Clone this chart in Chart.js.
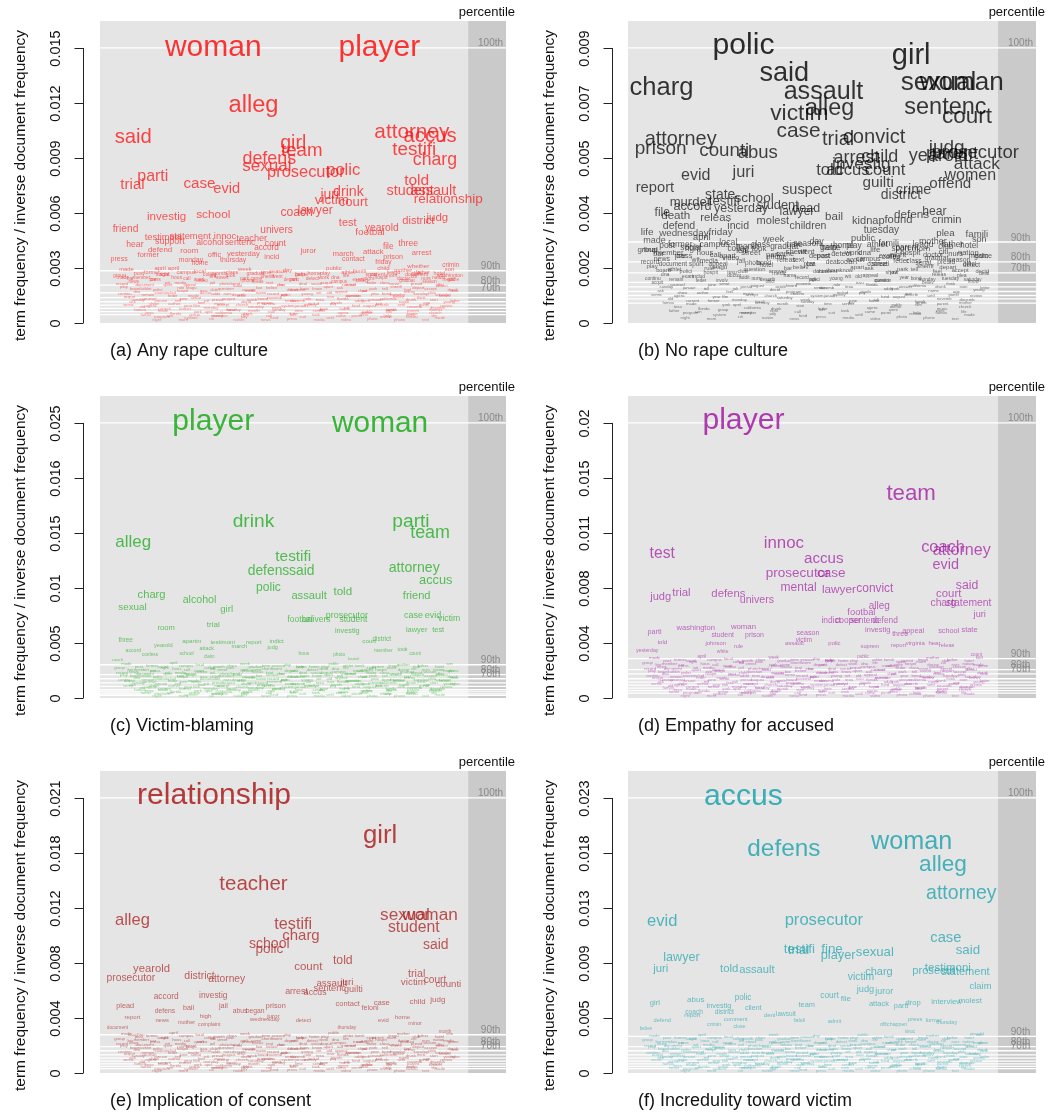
<!DOCTYPE html>
<html>
<head>
<meta charset="utf-8">
<script src="https://cdn.jsdelivr.net/npm/chart.js@4.4.0/dist/chart.umd.min.js"></script>
<style>
body { margin: 0; background: #fff; }
#wrap { position: relative; width: 1055px; height: 1114px; }
canvas { position: absolute; }
</style>
</head>
<body>
<div id="wrap"></div>
<script>
// (a) Any rape culture
const aWords = ["woman","player","alleg","said","attorney","accus","girl","team","testifi","charg","defens","sexual","prosecutor","polic","parti","trial","case","evid","told","student","assault","relationship","drink","juri","victim","court","coach","lawyer","investig","school","friend","univers","test","yearold","footbal","district","judg","testimoni","statement","innoc","teacher","sentenc","alcohol","support","count","accord","hear","former","defend","room","juror","file","three","attack","arrest","march","press","offic","yesterday","incid","monday","home","thursday","prison","contact","friday","child","crimin","whether","document","washington","made","april"];
const aX = [27.9,68.8,37.8,8.2,76.8,81.3,47.6,49.7,77.4,82.5,41.7,41.1,50.7,59.9,13.0,8.0,24.5,31.2,78.0,76.4,82.1,85.8,61.2,56.6,57.1,62.4,48.4,53.0,16.4,27.9,6.3,43.5,61.0,69.4,66.5,78.4,83.1,15.6,22.2,30.8,37.4,34.5,27.1,17.2,43.2,41.0,8.6,11.9,14.8,22.0,51.3,71.0,75.9,67.3,79.2,59.9,4.7,28.2,35.3,42.3,22.4,24.6,32.8,72.2,62.4,69.8,69.8,86.4,78.4,78.0,86.2,5.6,14.8];
const aY = [.0150,.0150,.01184,.01013,.01037,.01016,.00977,.00936,.00944,.00885,.00894,.00852,.00822,.00828,.00798,.00753,.0076,.00729,.00776,.00719,.0072,.00675,.00711,.00698,.00668,.00654,.00603,.00612,.00576,.00591,.00513,.00507,.00546,.00515,.00495,.00557,.00573,.00465,.00471,.00471,.00458,.0044,.00435,.00444,.00432,.00411,.00429,.00371,.00398,.00395,.00395,.00413,.00432,.00386,.0038,.00375,.0035,.00368,.00377,.00362,.00341,.00326,.00341,.00362,.0035,.00332,.00299,.00317,.00308,.00263,.00257,.00249,.00299];
const aTicks = ["0","0.003","0.006","0.009","0.012","0.015"];
const aPct = [0.015,0.00285,0.00207,0.00165,0.00138,0.00116,0.00097,0.0008,0.00062,0.00046];

// (b) No rape culture
const bWords = ["polic","girl","said","charg","sexual","woman","assault","alleg","victim","sentenc","court","case","trial","convict","attorney","prison","counti","abus","judg","prosecutor","yearold","parent","attack","women","offend","arrest","child","investig","told","accus","count","evid","juri","guilti","crime","district","report","suspect","state","school","testifi","murder","accord","yesterday","student","lawyer","dead","file","death","releas","bail","defens","hear","crimin","kidnap","found","defend","molest","incid","children","life","wednesday","friday","tuesday","plea","famili","final"];
const bX = [28.3,69.4,38.3,8.2,76.1,81.8,47.9,49.4,42.0,77.8,83.1,41.8,51.5,60.3,12.9,8.0,23.6,31.8,78.1,85.1,76.1,79.4,85.5,83.9,79.0,56.0,61.7,57.2,49.4,53.9,63.0,16.6,28.3,61.3,70.0,66.9,6.6,43.9,22.6,30.9,23.6,15.3,15.8,27.7,36.7,41.4,43.7,8.4,11.7,21.5,50.5,69.5,75.1,78.1,58.9,66.3,12.5,35.5,27.0,44.1,4.7,13.7,22.7,62.1,77.8,85.5,5.5];
const bY = [.00907,.00872,.00814,.00767,.00786,.00783,.00754,.00701,.00685,.00704,.00674,.00627,.006,.00605,.00598,.0057,.00562,.00555,.00571,.00555,.00544,.00552,.00518,.0048,.00456,.00539,.00541,.00519,.00498,.00498,.00498,.00482,.0049,.00458,.00436,.00419,.00442,.00436,.00418,.00408,.00398,.00394,.00381,.00374,.00385,.00363,.00374,.00361,.00349,.00342,.00346,.00353,.00364,.00337,.00332,.00337,.00318,.00332,.00316,.00315,.00298,.00293,.00297,.00304,.00292,.00289,.00238];
const bTicks = ["0","0.002","0.004","0.005","0.007","0.009"];
const bPct = [0.009,0.00265,0.0020,0.00164,0.00133,0.00118,0.00103,0.0009,0.00079,0.00065];

// (c) Victim-blaming
const cWords = ["player","woman","drink","parti","team","alleg","testifi","defens","said","attorney","accus","polic","told","assault","friend","charg","alcohol","sexual","girl","footbal","univers","prosecutor","student","case","evid","victim","room","trial","investig","lawyer","test","three","yearold","apartm","testimoni","report","indict","march","attack","judg","court","district","accord","confess","school","claim","hous","photo","member","took","count","found","coach"];
const cX = [27.9,69.0,37.8,76.6,81.3,8.2,47.6,41.5,49.7,77.4,82.7,41.5,59.8,51.5,78.0,12.7,24.5,8.0,31.2,49.3,53.4,60.8,62.4,77.2,82.0,86.0,16.3,27.9,60.9,78.0,83.3,6.3,15.6,22.6,30.2,37.9,43.5,34.3,26.3,42.5,66.3,69.4,8.2,12.3,21.3,26.9,50.2,58.9,69.8,74.5,77.6,62.4,4.3];
const cY = [.0251,.02485,.01597,.01597,.01493,.01415,.01282,.01155,.01155,.01178,.01066,.01005,.00966,.0093,.00924,.00936,.00887,.00821,.00803,.00709,.00709,.00745,.00709,.00751,.0075,.00724,.00636,.00664,.00605,.00618,.00618,.00524,.00478,.00515,.00509,.00503,.00515,.0047,.00451,.00454,.00515,.0053,.0043,.00391,.00406,.00375,.00406,.00397,.00427,.00442,.004,.00355,.00345];
const cTicks = ["0","0.005","0.01","0.015","0.016","0.025"];
const cPct = [0.025,0.00302,0.00212,0.00175,0.00138,0.00105,0.00075,0.00055,0.00038,0.00025];

// (d) Empathy for accused
const dWords = ["player","team","innoc","test","coach","attorney","accus","evid","prosecutor","case","mental","lawyer","convict","said","court","charg","statement","juri","judg","trial","defens","univers","alleg","footbal","indict","cooper","sentenc","defend","investig","three","appeal","school","state","washington","woman","parti","prison","season","student","victim","told","johnson","polic","assault","report","virginia","hear","releas","yesterday","suprem","rule","count","white","order"];
const dX = [28.3,69.4,38.2,8.4,77.2,81.8,48.0,77.9,41.6,49.8,41.8,51.7,60.5,83.1,78.6,77.3,83.5,86.2,8.0,13.1,24.6,31.6,61.6,57.2,49.8,53.9,58.0,63.0,61.2,66.7,69.9,78.6,83.7,16.6,28.3,6.5,31.0,44.1,23.2,43.1,8.4,21.5,50.6,40.8,66.3,70.4,75.1,78.1,4.7,59.3,27.1,85.4,23.2,49.4];
const dY = [.0191,.01411,.01068,.00995,.01036,.0102,.00958,.00914,.00857,.00857,.0076,.00748,.00755,.00778,.0072,.00654,.00654,.00578,.007,.00725,.0072,.00674,.00633,.00592,.0053,.0053,.0053,.0053,.00472,.00444,.0046,.00463,.0047,.00481,.00493,.00456,.00437,.00449,.00433,.00398,.00384,.00375,.00375,.00376,.00363,.0038,.0038,.0036,.00329,.00355,.00352,.00297,.0032,.00262];
const dTicks = ["0","0.004","0.008","0.011","0.015","0.02"];
const dPct = [0.019,0.00272,0.00196,0.00166,0.00133,0.0011,0.00089,0.00068,0.00051,0.00034];

// (e) Implication of consent
const eWords = ["relationship","girl","teacher","alleg","sexual","woman","student","testifi","charg","school","polic","said","told","count","yearold","prosecutor","district","attorney","trial","victim","court","counti","assault","juri","sentenc","guilti","arrest","accus","accord","investig","plead","prison","contact","case","child","judg","jail","abus","began","juror","wednesday","feloni","report","defens","high","bail","detect","home","evid","minor","news","document","mother","complaint","month","thursday","daughter"];
const eX = [28.1,69.0,37.8,8.0,75.1,81.3,77.3,47.6,49.5,41.7,41.7,82.7,59.8,51.3,12.7,7.6,24.5,31.2,78.0,77.2,82.5,85.8,57.1,60.8,56.6,62.4,48.4,53.0,16.3,27.9,6.2,43.3,61.0,69.4,78.2,83.2,30.4,34.5,38.2,42.7,40.6,66.5,8.0,16.0,26.0,21.8,50.1,74.5,69.8,77.6,15.3,4.3,21.3,26.9,85.0,60.8,9.0];
const eY = [.0211,.01804,.01435,.0116,.01206,.01206,.01106,.01134,.01048,.00986,.00946,.00976,.00858,.00808,.0079,.00724,.00736,.00716,.00751,.0069,.00711,.00678,.0068,.0069,.00647,.00637,.00622,.00609,.00579,.00586,.00514,.00512,.00525,.00533,.00542,.00558,.00509,.00474,.00474,.00436,.0041,.00497,.00423,.00472,.00433,.00495,.00397,.00426,.00403,.00377,.00403,.00342,.00384,.00367,.00316,.00346,.00293];
const eTicks = ["0","0.004","0.008","0.012","0.018","0.021"];
const ePct = [0.021,0.00292,0.00201,0.0017,0.00139,0.00113,0.0009,0.00069,0.0005,0.00034];

// (f) Incredulity toward victim
const fWords = ["accus","woman","defens","alleg","attorney","prosecutor","evid","case","testifi","trial","fine","sexual","said","player","lawyer","testimoni","statement","prosecut","told","juri","assault","charg","victim","claim","judg","juror","court","file","polic","abus","girl","interview","drop","molest","attack","team","parti","investig","client","coach","district","lawsuit","deni","report","comment","press","former","falsli","defend","admit","thursday","crimin","offic","happen","close","believ","innoc","yearold"];
const fX = [28.3,69.5,38.2,77.2,81.7,48.0,8.4,77.9,42.0,41.8,50.0,60.5,83.3,51.5,13.1,78.4,82.7,74.9,24.8,8.0,31.6,61.5,57.1,86.4,58.2,62.8,49.4,53.4,28.2,16.6,6.6,78.1,69.9,83.9,61.5,43.8,66.9,22.3,30.7,16.2,23.6,38.7,34.7,15.8,26.4,70.4,74.9,42.0,8.4,50.6,78.1,21.1,62.9,66.3,27.3,4.4,69.1,85.5];
const fY = [.0231,.01932,.01865,.01736,.01497,.01273,.01267,.01126,.0103,.01023,.0103,.01009,.01021,.00977,.00963,.00882,.00846,.00851,.00871,.00865,.0086,.00843,.00798,.00723,.00701,.00681,.00642,.00622,.00625,.00612,.00586,.00594,.00586,.00603,.00574,.00568,.00561,.00561,.00545,.00508,.00508,.00493,.00478,.00478,.00447,.00447,.00436,.00436,.00435,.00427,.00421,.00402,.00402,.00402,.00386,.00371,.0034,.00324];
const fTicks = ["0","0.005","0.009","0.013","0.018","0.023"];
const fPct = [0.023,0.00306,0.00221,0.00186,0.00152,0.00124,0.00099,0.00076,0.00055,0.00037];

// low-frequency terms packed under the 90th percentile (y as a share of the 90th percentile value)
const lowWords = ["made","former","april","local","month","week","time","day","home","public","famili","parent","mother","father","son","group","member","right","call","left","took","came","went","help","work","life","night","morn","citi","nation","news","press","media","video","photo","phone","text","post","social","campus","colleg","class","graduat","season","game","play","athlet","sport","leagu","club","hotel","bar","car","hous","apart","street","park","sheriff","depart","detect","dna","exam","hospit","doctor","nurs","medic","record","document","wit","appeal","jail","bond","releas","plea","deal","acquit","counsel","feder","senat","presid","offici","board","polici","rule","issu","question","answer","believ","think","know","ask","show","tell","feel","accept","decid","continu","remain","includ","involv","addit","describ","name","age","young","old","current","year","monday","tuesday","saturday","sunday","januari","june","juli","august","octob","novemb","decemb","texa","florida","york","california","drunk","stori","letter","servic","agenc","author","film","music","church","program","system","money","pay","fund","suit","settl","panel","review","famou"];
const lowX = [6.5,12.8,18.1,24.6,29.3,35.7,40.9,46.2,52.8,57.6,63.9,68.4,74.7,79.5,86.1,
  4.8,10.2,15.9,21.4,27.8,32.1,38.5,43.7,49.3,55.1,60.6,66.2,71.8,77.3,83.4,
  8.3,13.6,19.8,25.2,30.7,36.4,41.8,47.9,53.3,58.9,64.5,70.1,75.6,81.2,87.0,
  5.9,11.4,16.7,22.5,28.1,33.9,39.2,44.8,50.4,56.2,61.7,67.3,72.9,78.4,84.2,
  9.1,14.7,20.3,26.0,31.4,37.1,42.6,48.3,53.9,59.4,65.1,70.6,76.2,81.8,87.3,
  7.2,12.1,17.9,23.6,29.0,34.8,40.1,45.7,51.2,56.8,62.4,68.0,73.5,79.1,84.7,
  8.0,13.3,19.2,24.9,30.3,36.0,41.5,47.1,52.6,58.3,63.8,69.4,74.9,80.5,86.0,
  10.4,15.8,21.7,27.3,32.9,38.4,44.0,49.6,55.2,60.8,66.4,71.9,77.5,83.1,
  12.2,18.6,24.1,30.5,36.3,42.2,47.8,53.7,59.9,65.6,71.2,77.0,82.6,
  15.3,22.4,28.8,35.5,42.9,49.9,56.6,63.2,70.4,76.8,83.7];
const lowFrac = [1.02,.96,1.05,.99,.94,1.03,.97,1.0,.95,1.04,.98,.93,1.01,.97,1.03,
  .9,.86,.92,.84,.89,.91,.85,.88,.93,.87,.9,.84,.91,.88,.86,
  .79,.82,.76,.8,.74,.81,.77,.83,.75,.79,.81,.76,.8,.78,.82,
  .7,.66,.72,.68,.64,.71,.67,.73,.65,.69,.72,.66,.7,.68,.71,
  .6,.57,.62,.58,.55,.61,.56,.63,.57,.59,.62,.55,.6,.58,.61,
  .5,.47,.52,.48,.45,.51,.46,.53,.47,.49,.52,.45,.5,.48,.51,
  .4,.37,.42,.38,.35,.41,.36,.43,.37,.39,.42,.35,.4,.38,.41,
  .3,.27,.32,.28,.25,.31,.26,.33,.27,.29,.32,.25,.3,.28,
  .2,.18,.22,.19,.17,.21,.18,.23,.19,.2,.22,.17,.2,
  .12,.1,.13,.11,.09,.12,.1,.13,.11,.12,.1];
const lowX2 = [9.6,15.4,21.2,27.0,32.5,38.3,43.9,49.6,55.4,61.1,66.8,72.3,77.9,83.6,
  7.5,13.1,18.9,24.4,30.1,35.6,41.2,46.9,52.3,58.0,63.6,69.2,74.8,80.3,85.9,
  5.4,11.0,16.6,22.1,27.7,33.3,38.8,44.5,50.0,55.7,61.3,66.9,72.4,78.0,83.7,
  8.7,14.2,19.9,25.5,31.0,36.7,42.3,47.8,53.5,59.1,64.7,70.2,75.8,81.4,86.8,
  6.1,11.8,17.3,23.0,28.5,34.2,39.7,45.4,51.0,56.5,62.2,67.7,73.3,79.0,84.5,
  9.4,15.0,20.6,26.3,31.8,37.4,43.0,48.7,54.2,59.8,65.5,71.0,76.6,82.2,87.5,
  7.0,12.6,18.3,23.8,29.5,35.0,40.6,46.3,51.8,57.4,63.0,68.7,74.2,79.8,85.3,
  9.9,15.5,21.0,26.7,32.3,37.9,43.5,49.0,54.7,60.3,65.9,71.5,77.1,82.7,
  11.3,17.2,23.3,29.6,35.8,41.6,47.5,53.2,59.3,65.0,70.8,76.5,82.3,
  14.0,20.5,27.5,34.2,40.8,47.3,54.0,60.6,67.1,73.8,80.2];
const lowFrac2 = [.95,.93,.97,.92,.96,.94,.98,.93,.95,.97,.92,.96,.94,.95,
  .85,.83,.87,.82,.86,.84,.88,.83,.85,.87,.82,.86,.84,.85,.83,
  .75,.73,.77,.72,.76,.74,.78,.73,.75,.77,.72,.76,.74,.75,.73,
  .65,.63,.67,.62,.66,.64,.68,.63,.65,.67,.62,.66,.64,.65,.63,
  .55,.53,.57,.52,.56,.54,.58,.53,.55,.57,.52,.56,.54,.55,.53,
  .45,.43,.47,.42,.46,.44,.48,.43,.45,.47,.42,.46,.44,.45,.43,
  .35,.33,.37,.32,.36,.34,.38,.33,.35,.37,.32,.36,.34,.35,.33,
  .25,.23,.27,.22,.26,.24,.28,.23,.25,.27,.22,.26,.24,.25,
  .15,.14,.16,.13,.15,.14,.16,.15,.14,.16,.13,.15,.14,
  .06,.05,.07,.06,.05,.07,.06,.05,.07,.06,.05];

const pctLabels = ["100th","90th","80th","70th"];
const FONT = '"Liberation Sans", Arial, Helvetica, sans-serif';
const YTITLE = "term frequency / inverse document frequency";
const BAND = 90.7;

const panels = [
  {cap: "(a) Any rape culture", words: aWords, x: aX, y: aY, ticks: aTicks, pct: aPct, yTop: 0.015, rgb: "255,10,10", left: 0, top: 0, w: 527, h: 375, col: 0},
  {cap: "(b) No rape culture", words: bWords, x: bX, y: bY, ticks: bTicks, pct: bPct, yTop: 0.009, rgb: "0,0,0", left: 527, top: 0, w: 528, h: 375, col: 1},
  {cap: "(c) Victim-blaming", words: cWords, x: cX, y: cY, ticks: cTicks, pct: cPct, yTop: 0.025, rgb: "18,168,18", left: 0, top: 375, w: 527, h: 375, col: 0},
  {cap: "(d) Empathy for accused", words: dWords, x: dX, y: dY, ticks: dTicks, pct: dPct, yTop: 0.019, rgb: "160,20,160", left: 527, top: 375, w: 528, h: 375, col: 1},
  {cap: "(e) Implication of consent", words: eWords, x: eX, y: eY, ticks: eTicks, pct: ePct, yTop: 0.021, rgb: "168,18,18", left: 0, top: 750, w: 527, h: 364, col: 0},
  {cap: "(f) Incredulity toward victim", words: fWords, x: fX, y: fY, ticks: fTicks, pct: fPct, yTop: 0.023, rgb: "20,160,170", left: 527, top: 750, w: 528, h: 364, col: 1}
];

// column geometry: axis line, grey plot left/right
const geo = [{axis: 83, grayL: 100, grayR: 506}, {axis: 85, grayL: 101, grayR: 509}];

function wordPlugin(p) {
  return {
    id: 'wordcloud',
    beforeDatasetsDraw(chart) {
      const ctx = chart.ctx, xs = chart.scales.x, ys = chart.scales.y;
      const L = xs.getPixelForValue(0), R = xs.getPixelForValue(100), B = xs.getPixelForValue(BAND);
      const T = ys.getPixelForValue(ys.max), Z = ys.getPixelForValue(0);
      ctx.save();
      ctx.fillStyle = '#e5e5e5';
      ctx.fillRect(L, T, R - L, Z - T);
      ctx.fillStyle = '#cacaca';
      ctx.fillRect(B, T, R - B, Z - T);
      ctx.strokeStyle = '#ffffff';
      ctx.lineWidth = 1.3;
      p.pct.forEach(v => {
        const yy = ys.getPixelForValue(v);
        ctx.beginPath(); ctx.moveTo(L, yy); ctx.lineTo(R, yy); ctx.stroke();
      });
      ctx.fillStyle = '#8a8a8a';
      ctx.font = '10px ' + FONT;
      ctx.textAlign = 'center';
      ctx.textBaseline = 'alphabetic';
      pctLabels.forEach((t, i) => {
        ctx.fillText(t, xs.getPixelForValue(96.2), ys.getPixelForValue(p.pct[i]) - 1.5);
      });
      ctx.restore();
    },
    afterDatasetsDraw(chart) {
      const ctx = chart.ctx, xs = chart.scales.x, ys = chart.scales.y;
      const items = [];
      chart.data.datasets.forEach((ds, di) => {
        const meta = chart.getDatasetMeta(di);
        ds.data.forEach((d, i) => items.push({w: d.w, v: d.y, px: meta.data[i].x, py: meta.data[i].y}));
      });
      items.sort((a, b) => a.v - b.v);
      ctx.save();
      ctx.textAlign = 'center';
      ctx.textBaseline = 'alphabetic';
      items.forEach(it => {
        const rel = it.v / p.yTop;
        const size = Math.max(4.2, 30 * rel);
        const a = 0.42 + 0.4 * Math.sqrt(Math.min(rel, 1));
        ctx.fillStyle = 'rgba(' + p.rgb + ',' + a.toFixed(3) + ')';
        ctx.font = size.toFixed(2) + 'px ' + FONT;
        ctx.fillText(it.w, it.px, it.py + 0.26 * size);
      });

      // y axis (only from 0 to the top tick)
      const ax = chart.chartArea.left + 0.5;
      const T = ys.getPixelForValue(ys.max);
      ctx.strokeStyle = '#222';
      ctx.lineWidth = 1;
      ctx.beginPath();
      ctx.moveTo(ax, ys.getPixelForValue(0));
      ctx.lineTo(ax, ys.getPixelForValue(p.yTop));
      ctx.stroke();
      ctx.fillStyle = '#111';
      ctx.font = '14.5px ' + FONT;
      ctx.textBaseline = 'middle';
      const n = p.ticks.length - 1;
      p.ticks.forEach((lab, i) => {
        const yy = Math.round(ys.getPixelForValue(p.yTop * i / n)) + 0.5;
        ctx.beginPath(); ctx.moveTo(ax - 9, yy); ctx.lineTo(ax, yy); ctx.stroke();
        ctx.save();
        ctx.translate(ax - 27.5, yy);
        ctx.rotate(-Math.PI / 2);
        ctx.fillText(lab, 0, 0);
        ctx.restore();
      });
      // axis title
      ctx.save();
      ctx.font = '15.5px ' + FONT;
      ctx.translate(ax - 63, (ys.getPixelForValue(0) + ys.getPixelForValue(p.yTop)) / 2);
      ctx.rotate(-Math.PI / 2);
      ctx.fillText(YTITLE, 0, 0);
      ctx.restore();
      // "percentile" heading over the band
      ctx.font = '13px ' + FONT;
      ctx.textBaseline = 'alphabetic';
      ctx.fillText('percentile', xs.getPixelForValue(95.3), T - 5);
      // caption
      ctx.textAlign = 'left';
      ctx.font = '18px ' + FONT;
      ctx.fillText(p.cap, xs.getPixelForValue(0) + 10, chart.chartArea.bottom + 33);
      ctx.restore();
    }
  };
}

panels.forEach(p => {
  const cv = document.createElement('canvas');
  cv.width = p.w;
  cv.height = p.h;
  cv.style.left = p.left + 'px';
  cv.style.top = p.top + 'px';
  document.getElementById('wrap').appendChild(cv);
  const g = geo[p.col];
  const unit = (g.grayR - g.grayL) / 100;
  const main = p.words.map((w, i) => ({x: p.x[i], y: p.y[i], w: w}));
  const low = lowX.map((xv, i) => ({x: xv, y: lowFrac[i] * p.pct[1], w: lowWords[i % lowWords.length]}));
  const low2 = lowX2.map((xv, i) => ({x: xv, y: lowFrac2[i] * p.pct[1], w: lowWords[(i + 37) % lowWords.length]}));
  new Chart(cv, {
    type: 'scatter',
    data: {datasets: [
      {data: low, pointRadius: 0, pointHoverRadius: 0},
      {data: low2, pointRadius: 0, pointHoverRadius: 0},
      {data: main, pointRadius: 0, pointHoverRadius: 0}
    ]},
    options: {
      responsive: false,
      animation: false,
      events: [],
      layout: {padding: {left: g.axis, right: p.w - g.grayR, top: 21, bottom: p.h - 323}},
      scales: {
        x: {type: 'linear', display: false, min: -(g.grayL - g.axis) / unit, max: 100},
        y: {type: 'linear', display: false, min: 0, max: p.yTop * 1.098}
      },
      plugins: {legend: {display: false}, tooltip: {enabled: false}}
    },
    plugins: [wordPlugin(p)]
  });
});
</script>
</body>
</html>
